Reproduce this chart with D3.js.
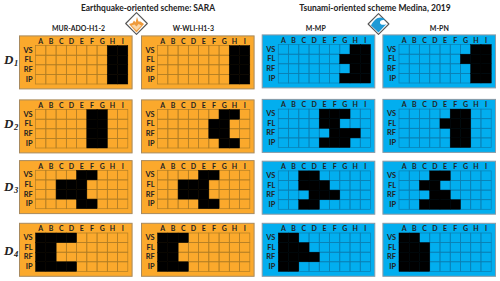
<!DOCTYPE html>
<html>
<head>
<meta charset="utf-8">
<script src="https://d3js.org/d3.v7.min.js"></script>
<style>
  html, body { margin: 0; background: #fff; }
  text { font-family: Lato, sans-serif; fill: #222; }
  .domain { display: none; }
  .tick line { display: none; }
</style>
</head>
<body>
<svg width="500" height="281"></svg>
<script>
// data: which hazard columns are filled for each row
var letters = ["A", "B", "C", "D", "E", "F", "G", "H", "I"];
var rowNames = ["VS", "FL", "RF", "IP"];
var damageLevels = ["1", "2", "3", "4"];
var schemeTitles = ["Earthquake-oriented scheme: SARA", "Tsunami-oriented scheme Medina, 2019"];
var modelNames = ["MUR-ADO-H1-2", "W-WLI-H1-3", "M-MP", "M-PN"];

// each entry: [VS, FL, RF, IP]
var murAdo = [
  ["HI", "HI", "HI", "HI"],
  ["FG", "FG", "FG", "FG"],
  ["EF", "CDE", "CDE", "EF"],
  ["ABCD", "AB", "AB", "ABCD"]
];
var wWli = [
  ["HI", "HI", "HI", "HI"],
  ["GH", "FG", "FG", "GH"],
  ["EF", "CDE", "CDE", "EF"],
  ["ABC", "AB", "AB", "ABC"]
];
var mMp = [
  ["HI", "GHI", "HI", "GHI"],
  ["EFG", "EF", "FGH", "EFG"],
  ["CD", "CDE", "DEF", "CD"],
  ["AB", "ABC", "ABCD", "AB"]
];
var mPn = [
  ["HI", "GHI", "HI", "HI"],
  ["FG", "EFG", "FG", "FG"],
  ["DE", "CD", "DE", "CDEF"],
  ["AB", "ABC", "ABC", "ABC"]
];
var models = [murAdo, wWli, mMp, mPn];

var svg = d3.select("svg");

// layout
var panelW = 113.6, panelH = 54;
var panelX = [19, 141, 261.7, 382.4];
var labelX = [78.5, 193.3, 315.7, 439.3];
var labelW = [53, 41.3, 20, 19];
var panelTops = [
  [35.4, 99.4, 160.1, 222.8],
  [35.4, 99.4, 160.1, 222.8],
  [34.4, 98.9, 160.7, 222.8],
  [34.4, 98.9, 160.7, 222.8]
];
var colors = [
  {bg: "#fba92c", line: "#b27e25", edge: "#a88a5e"},
  {bg: "#fba92c", line: "#b27e25", edge: "#a88a5e"},
  {bg: "#02aeef", line: "#0b7fb3", edge: "#8b9aa5"},
  {bg: "#02aeef", line: "#0b7fb3", edge: "#8b9aa5"}
];

var x = d3.scaleBand().domain(letters).range([16.6, 108.8]);
var y = d3.scaleBand().domain(rowNames).range([10.2, 48.6]);

models.forEach(function(model, c) {
  model.forEach(function(rows, r) {
    var g = svg.append("g")
        .attr("transform", "translate(" + panelX[c] + "," + panelTops[c][r] + ")");

    g.append("rect")
        .attr("x", 0.5).attr("y", 0.5)
        .attr("width", panelW - 1).attr("height", panelH - 1)
        .attr("fill", colors[c].bg)
        .attr("stroke", colors[c].edge);

    // grid cells
    var cells = d3.cross(rowNames, letters);
    g.selectAll(".cell")
      .data(cells)
      .join("rect")
        .attr("class", "cell")
        .attr("x", d => x(d[1]))
        .attr("y", d => y(d[0]))
        .attr("width", x.bandwidth())
        .attr("height", y.bandwidth())
        .attr("fill", "none")
        .attr("stroke", colors[c].line)
        .attr("stroke-width", 0.7);

    // filled cells
    g.selectAll(".hit")
      .data(cells.filter(d => rows[rowNames.indexOf(d[0])].indexOf(d[1]) >= 0))
      .join("rect")
        .attr("class", "hit")
        .attr("x", d => x(d[1]))
        .attr("y", d => y(d[0]))
        .attr("width", x.bandwidth())
        .attr("height", y.bandwidth())
        .attr("fill", "#000")
        .attr("stroke", "#000")
        .attr("stroke-width", 0.4);

    var top = g.append("g")
        .attr("transform", "translate(0,8.4)")
        .call(d3.axisTop(x).tickSize(0).tickPadding(0));
    top.selectAll("text")
        .attr("font-size", 7)
        .attr("font-weight", 700)
        .style("font-family", "Lato, sans-serif")
        .attr("fill", "#222");

    var left = g.append("g")
        .attr("transform", "translate(13.6,0)")
        .call(d3.axisLeft(y).tickSize(0).tickPadding(0));
    left.selectAll("text")
        .attr("font-size", 7.4)
        .attr("font-weight", 700)
        .style("font-family", "Lato, sans-serif")
        .attr("fill", "#222");
  });

  svg.append("text")
      .attr("x", labelX[c])
      .attr("y", 31)
      .attr("text-anchor", "middle")
      .attr("font-size", 8.2)
      .attr("font-weight", 700)
      .attr("textLength", labelW[c])
      .attr("lengthAdjust", "spacingAndGlyphs")
      .text(modelNames[c]);
});

// scheme titles
svg.selectAll(".scheme")
  .data(schemeTitles)
  .join("text")
    .attr("class", "scheme")
    .attr("x", (d, i) => i == 0 ? 148 : 375)
    .attr("y", 11)
    .attr("text-anchor", "middle")
    .attr("font-size", 9.3)
    .attr("font-weight", 700)
    .attr("textLength", (d, i) => i == 0 ? 134 : 151.4)
    .attr("lengthAdjust", "spacingAndGlyphs")
    .text(d => d);

// D labels
var rowBase = [64, 128, 191, 255];
damageLevels.forEach(function(level, i) {
  var t = svg.append("text")
      .attr("x", 4)
      .attr("y", rowBase[i])
      .style("font-family", '"Liberation Serif", serif')
      .style("font-style", "italic")
      .style("font-weight", 700)
      .attr("font-size", 13);
  t.append("tspan").text("D");
  t.append("tspan")
      .attr("dx", 0.5)
      .attr("dy", 1.5)
      .attr("font-size", 8.5)
      .text(level);
});

// scheme icons, drawn as small glyphs
function diamond(g, r) {
  g.append("path")
      .attr("d", "M0," + (-r) + "L" + r + ",0L0," + r + "L" + (-r) + ",0Z")
      .attr("fill", "#fff")
      .attr("stroke", "#555")
      .attr("stroke-width", 1.1)
      .attr("stroke-linejoin", "round");
}

var quake = svg.append("g").attr("transform", "translate(136.5,23.5)");
diamond(quake, 10.8);
quake.append("path")
    .attr("d", "M-7.5,0.5L-4,-0.5L-2.5,-3L-1,-1L0.5,-6.5L2,-2L4,-2L7.5,0.5L0,9Z")
    .attr("fill", "#ee9a3c");
quake.append("path")
    .attr("d", "M-5,2L-2,1L0,3L2,0.5L5,2L0,7Z")
    .attr("fill", "#f9d6a8");

var wave = svg.append("g").attr("transform", "translate(378.5,24)");
diamond(wave, 10.4);
wave.append("path")
    .attr("d", "M-7.5,1.5C-5,-3 -2,-6.5 2,-6.5C4,-6.5 6,-5.5 6.5,-3.5C4,-4.5 1,-3.5 1.5,-1C2,1 5.5,1.5 8,0L0,8.5Z")
    .attr("fill", "#1f9ad6");
</script>
</body>
</html>
